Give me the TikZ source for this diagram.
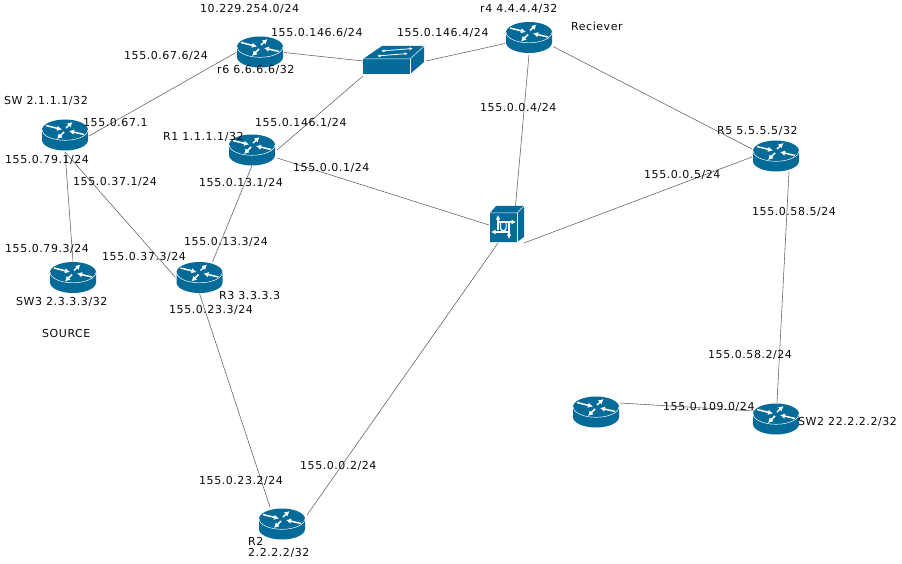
\documentclass[tikz,border=0pt]{standalone}
\usepackage{fontspec}
\setmainfont{DejaVu Sans}[LetterSpace=5]
\usetikzlibrary{shapes.geometric,arrows.meta}
\definecolor{cisco}{RGB}{4,106,152}
\definecolor{ink}{RGB}{10,10,10}
\definecolor{wire}{RGB}{95,95,95}
\tikzset{
  x=1pt,y=-1pt,
  routerbox/.style={ellipse,minimum width=46pt,minimum height=31pt,inner sep=0pt,outer sep=0pt},
  devbox/.style={rectangle,inner sep=0pt,outer sep=0pt},
  wirel/.style={draw=wire,line width=0.55pt},
  lab/.style={anchor=west,inner sep=0pt,font=\fontsize{11pt}{12pt}\selectfont,text=ink},
  rarrow/.style={white,line width=1.5pt,-{Latex[width=5.5pt,length=5pt]}},
  darrow/.style={white,line width=0.8pt,{Latex[width=3pt,length=3.5pt]}-{Latex[width=3pt,length=3.5pt]}},
  harrow/.style={white,line width=1.1pt,-{Latex[width=5pt,length=4.5pt]}},
  hairw/.style={white,line width=0.5pt}
}
\newcommand{\routericon}[1]{%
  \begin{scope}[shift={(#1)}]
    \fill[cisco] (-23,-5) -- (-23,5) arc[start angle=180,end angle=360,x radius=23pt,y radius=10.5pt] -- (23,-5) arc[start angle=0,end angle=180,x radius=23pt,y radius=10.5pt] -- cycle;
    \draw[hairw] (-22.8,-5) arc[start angle=180,end angle=360,x radius=22.8pt,y radius=10.3pt];
    \draw[rarrow] (-19,-9.5) -- (-3,-5.5);
    \draw[rarrow] (1,-7) -- (7.5,-13);
    \draw[rarrow] (-1,-3) -- (-8,4);
    \draw[rarrow] (19,-0.5) -- (4,-4);
  \end{scope}}
\begin{document}
\begin{tikzpicture}
\useasboundingbox (0,0) rectangle (902,564);
\fill[white] (0,0) rectangle (902,564);
% nodes
\node[routerbox] (r6) at (260,52) {};
\node[routerbox] (r4) at (529,37.5) {};
\node[routerbox] (sw) at (65,135) {};
\node[routerbox] (r1) at (252,150) {};
\node[routerbox] (r5) at (776,156) {};
\node[routerbox] (sw3) at (73,277.5) {};
\node[routerbox] (r3) at (199.5,277.5) {};
\node[routerbox] (r2) at (282,524) {};
\node[routerbox] (rx) at (596,412) {};
\node[routerbox] (sw2) at (776,419) {};
\node[devbox,minimum width=61pt,minimum height=28pt] (swt) at (393.5,60) {};
\node[devbox,minimum width=34pt,minimum height=36pt] (hub) at (507,224) {};
% connectors
\draw[wirel] ([shift={(24,0.5)}]r6.center) -- ([shift={(-30.5,1)}]swt.center);
\draw[wirel] ([shift={(32.5,1)}]swt.center) -- ([shift={(-24,6)}]r4.center);
\draw[wirel] ([shift={(-30.5,16)}]swt.center) -- ([shift={(25,0)}]r1.center);
\draw[wirel] ([shift={(0,17)}]r4.center) -- ([shift={(8.5,-18)}]hub.center);
\draw[wirel] ([shift={(24,9)}]r4.center) -- ([shift={(-24,-7)}]r5.center);
\draw[wirel] ([shift={(17,19)}]hub.center) -- ([shift={(-24,1)}]r5.center);
\draw[wirel] ([shift={(25,8)}]r1.center) -- ([shift={(-18,1)}]hub.center);
\draw[wirel] ([shift={(-9,19)}]hub.center) -- ([shift={(25,-9)}]r2.center);
\draw[wirel] ([shift={(24,1)}]sw.center) -- ([shift={(-24,0.5)}]r6.center);
\draw[wirel] ([shift={(0,17)}]sw.center) -- ([shift={(0,-16)}]sw3.center);
\draw[wirel] ([shift={(0,17)}]sw.center) -- ([shift={(-24,0)}]r3.center);
\draw[wirel] ([shift={(0,15.5)}]r1.center) -- ([shift={(13,-15.5)}]r3.center);
\draw[wirel] ([shift={(0,16)}]r3.center) -- ([shift={(-12,-17)}]r2.center);
\draw[wirel] ([shift={(13,15.5)}]r5.center) -- ([shift={(1,-16)}]sw2.center);
\draw[wirel] ([shift={(24,-9)}]rx.center) -- ([shift={(-22,-8)}]sw2.center);
% router icons
\routericon{r6.center}
\routericon{r4.center}
\routericon{sw.center}
\routericon{r1.center}
\routericon{r5.center}
\routericon{sw3.center}
\routericon{r3.center}
\routericon{r2.center}
\routericon{rx.center}
\routericon{sw2.center}
% switch icon
\begin{scope}[shift={(swt.center)}]
  \fill[cisco] (-30.5,-1) -- (-11.5,-14) -- (30.5,-14) -- (30.5,2) -- (16.5,14) -- (-30.5,14) -- cycle;
  \draw[hairw] (-30.5,-1) -- (16.5,-1) -- (30.5,-14);
  \draw[hairw] (16.5,-1) -- (16.5,14);
  \draw[darrow] (-12.5,-9) -- (19.5,-11.5);
  \draw[darrow] (-16.5,-4) -- (14.5,-6.5);
\end{scope}
% hub icon
\begin{scope}[shift={(hub.center)}]
  \fill[cisco] (-17,-11) -- (-11,-18) -- (17,-18) -- (17,13) -- (10,18) -- (-17,18) -- cycle;
  \draw[hairw] (-17,-11) -- (10,-11) -- (17,-18);
  \draw[hairw] (10,-11) -- (10,18);
  \draw[harrow] (-9,6) -- (-9,-9);
  \draw[harrow] (3,8) -- (-16,8);
  \draw[harrow] (-9,-2) -- (9,-2);
  \draw[harrow] (2,-2) -- (2,15);
  \draw[white,line width=1.2pt] (-6.5,-1) -- (-6.5,4) arc[start angle=180,end angle=360,radius=2.8pt] -- (-0.9,-1);
\end{scope}
% labels
\node[lab] (l1) at (200,9) {10.229.254.0/24};
\node[lab] (l2) at (271,33) {155.0.146.6/24};
\node[lab] (l3) at (397,33) {155.0.146.4/24};
\node[lab] (l4) at (480,9) {r4 4.4.4.4/32};
\node[lab] (l5) at (571,26) {Reciever};
\node[lab] (l6) at (124,56) {155.0.67.6/24};
\node[lab] (l7) at (217,70) {r6 6.6.6.6/32};
\node[lab] (l8) at (4,101) {SW 2.1.1.1/32};
\node[lab] (l9) at (83,122) {155.0.67.1};
\node[lab] (l10) at (255,123) {155.0.146.1/24};
\node[lab] (l11) at (480,108) {155.0.0.4/24};
\node[lab] (l12) at (717,131) {R5 5.5.5.5/32};
\node[lab] (l13) at (163,137) {R1 1.1.1.1/32};
\node[lab] (l14) at (5,160) {155.0.79.1/24};
\node[lab] (l15) at (293,168) {155.0.0.1/24};
\node[lab] (l16) at (644,175) {155.0.0.5/24};
\node[lab] (l17) at (73,182) {155.0.37.1/24};
\node[lab] (l18) at (199,183) {155.0.13.1/24};
\node[lab] (l19) at (752,212) {155.0.58.5/24};
\node[lab] (l20) at (184,242) {155.0.13.3/24};
\node[lab] (l21) at (5,249) {155.0.79.3/24};
\node[lab] (l22) at (102,257) {155.0.37.3/24};
\node[lab] (l23) at (219,295) {R3 3.3.3.3};
\node[lab] (l24) at (16,302) {SW3 2.3.3.3/32};
\node[lab] (l25) at (169,310) {155.0.23.3/24};
\node[lab] (l26) at (42,333) {SOURCE};
\node[lab] (l27) at (708,355) {155.0.58.2/24};
\node[lab] (l28) at (663,407) {155.0.109.0/24};
\node[lab] (l29) at (798,422) {SW2 22.2.2.2/32};
\node[lab] (l30) at (300,466) {155.0.0.2/24};
\node[lab] (l31) at (199,481) {155.0.23.2/24};
\node[lab] (l32) at (248,541) {R2};
\node[lab] (l33) at (248,553) {2.2.2.2/32};
\end{tikzpicture}
\end{document}
